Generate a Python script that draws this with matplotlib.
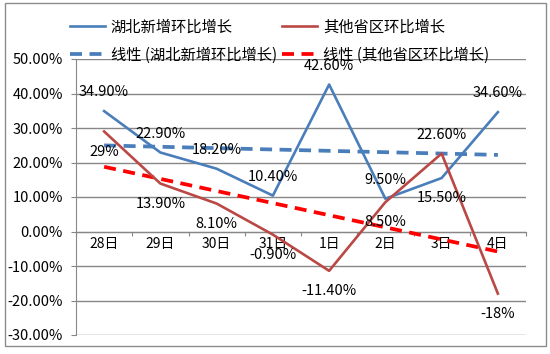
import numpy as np
import matplotlib
matplotlib.use("Agg")
import matplotlib.pyplot as plt
from matplotlib.patches import Rectangle

plt.rcParams['font.family'] = ['Noto Sans CJK SC', 'DejaVu Sans']

# =========================
# DATA
# =========================
days = ["28日", "29日", "30日", "31日", "1日", "2日", "3日", "4日"]
hubei = [34.90, 22.90, 18.20, 10.40, 42.60, 9.50, 15.50, 34.60]
others = [29, 13.90, 8.10, -0.90, -11.40, 8.50, 22.60, -18]
hubei_labels = ["34.90%", "22.90%", "18.20%", "10.40%", "42.60%", "9.50%", "15.50%", "34.60%"]
others_labels = ["29%", "13.90%", "8.10%", "-0.90%", "-11.40%", "8.50%", "22.60%", "-18%"]

blue = "#4A7EBB"
red = "#BA4845"
grid_c = "#878787"
fs = 10.5

x = np.arange(len(days))

# linear trendlines (as Excel does)
fit_h = np.polyfit(x, hubei, 1)
fit_o = np.polyfit(x, others, 1)

fig = plt.figure(figsize=(5.5, 3.54), dpi=100)
ax = fig.add_axes([76/550, 1-335/354, 450/550, (335-59)/354])

l1, = ax.plot(x, hubei, color=blue, lw=1.9, label="湖北新增环比增长", zorder=4)
l2, = ax.plot(x, others, color=red, lw=1.9, label="其他省区环比增长", zorder=4)
l3, = ax.plot(x, np.polyval(fit_h, x), color=blue, lw=2.7, dashes=(3.2, 2.0),
              label="线性 (湖北新增环比增长)", zorder=3)
l4, = ax.plot(x, np.polyval(fit_o, x), color="#FF0000", lw=2.7, dashes=(3.2, 2.0),
              label="线性 (其他省区环比增长)", zorder=3)

# data labels
for i in range(len(x)):
    off = -14.5 if hubei_labels[i] == "15.50%" else 13.5
    ax.annotate(hubei_labels[i], (x[i], hubei[i]), xytext=(0, off), textcoords="offset points",
                ha="center", va="center", fontsize=fs, zorder=6)
    off = 13.5 if others_labels[i] == "22.60%" else -14.5
    ax.annotate(others_labels[i], (x[i], others[i]), xytext=(0, off), textcoords="offset points",
                ha="center", va="center", fontsize=fs, zorder=6)

ax.set_ylim(-30, 50)
ax.set_yticks(np.arange(-30, 51, 10))
ax.set_yticklabels(["%.2f%%" % v for v in np.arange(-30, 51, 10)], fontsize=fs)
ax.yaxis.grid(True, color=grid_c, lw=1.0)
ax.set_axisbelow(True)

ax.set_xlim(-0.5, len(days) - 0.5)
ax.set_xticks(np.arange(-0.5, len(days), 1.0))
ax.set_xticklabels([])
ax.set_xticks(x, minor=True)
ax.set_xticklabels(days, minor=True, fontsize=fs)
ax.tick_params(axis="x", which="major", length=3, color=grid_c, direction="out")
ax.tick_params(axis="x", which="minor", length=0, pad=4)
ax.tick_params(axis="y", length=3.5, color=grid_c, pad=6)

for s in ["top", "right"]:
    ax.spines[s].set_visible(False)
ax.spines["left"].set_color(grid_c)
ax.spines["bottom"].set_color(grid_c)
ax.spines["bottom"].set_position(("data", 0))

fig.legend(handles=[l1, l3, l2, l4], ncol=2, frameon=False, fontsize=11,
           loc="upper left", bbox_to_anchor=(62/550, 1-11/354), borderpad=0,
           handlelength=2.3, handletextpad=0.4, columnspacing=0.3, labelspacing=0.72)

# outer border
fig.patches.append(Rectangle((5/550, 1-346/354), 541/550, 343/354, transform=fig.transFigure,
                             fill=False, edgecolor="#8C8C8C", lw=1.0))

plt.savefig("out.png", dpi=100)
